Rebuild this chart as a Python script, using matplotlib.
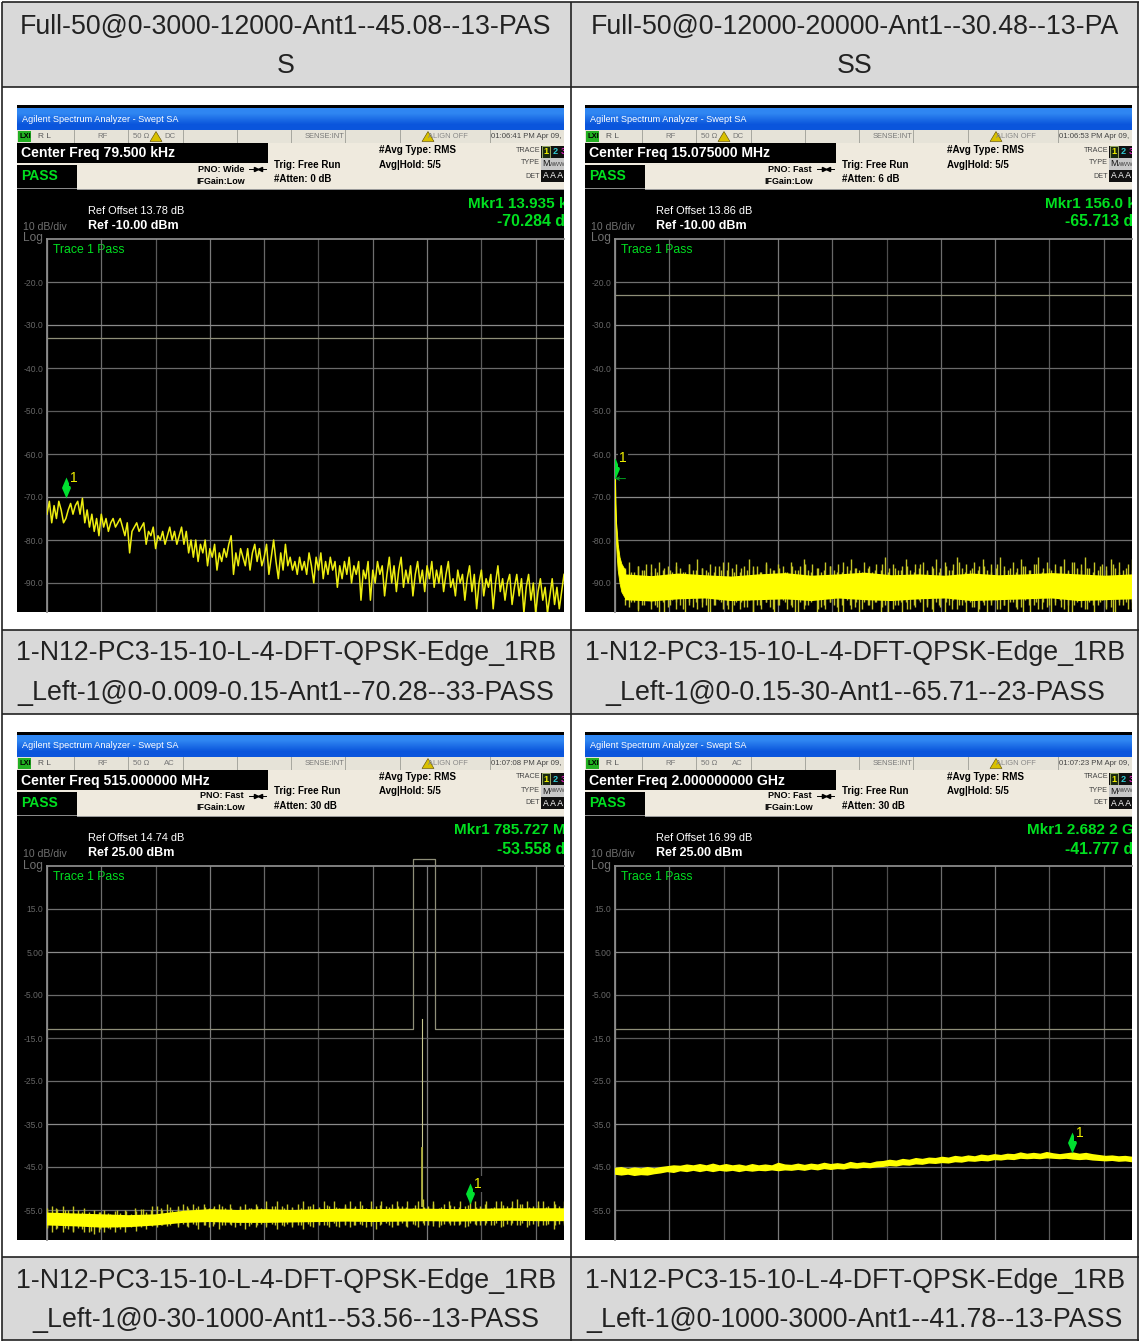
"""
Four spectrum analyzer screenshots in a two column table, redrawn with matplotlib.
Frequencies are in the unit of each sweep (kHz or MHz), levels in dBm.
"""
import numpy as np
import matplotlib
matplotlib.use('Agg')
import matplotlib.pyplot as plt
from matplotlib.patches import Rectangle
from matplotlib.path import Path as MplPath
from matplotlib.transforms import Bbox, TransformedBbox

HEADERS = [
    ["Full-50@0-3000-12000-Ant1--45.08--13-PAS", "S"],
    ["Full-50@0-12000-20000-Ant1--30.48--13-PA", "SS"],
    ["1-N12-PC3-15-10-L-4-DFT-QPSK-Edge_1RB", "_Left-1@0-0.009-0.15-Ant1--70.28--33-PASS"],
    ["1-N12-PC3-15-10-L-4-DFT-QPSK-Edge_1RB", "_Left-1@0-0.15-30-Ant1--65.71--23-PASS"],
    ["1-N12-PC3-15-10-L-4-DFT-QPSK-Edge_1RB", "_Left-1@0-30-1000-Ant1--53.56--13-PASS"],
    ["1-N12-PC3-15-10-L-4-DFT-QPSK-Edge_1RB", "_Left-1@0-1000-3000-Ant1--41.78--13-PASS"],
]

CENTER_FREQ = ["Center Freq 79.500 kHz", "Center Freq 15.075000 MHz",
               "Center Freq 515.000000 MHz", "Center Freq 2.000000000 GHz"]
PNO = ["PNO: Wide", "PNO: Fast", "PNO: Fast", "PNO: Fast"]
ATTEN = ["#Atten: 0 dB", "#Atten: 6 dB", "#Atten: 30 dB", "#Atten: 30 dB"]
COUPLING = ["DC", "DC", "AC", "AC"]
CLOCK = ["01:06:41 PM Apr 09,", "01:06:53 PM Apr 09,", "01:07:08 PM Apr 09,", "01:07:23 PM Apr 09,"]
REF_OFFSET = ["Ref Offset 13.78 dB", "Ref Offset 13.86 dB", "Ref Offset 14.74 dB", "Ref Offset 16.99 dB"]
REF_LEVEL = ["Ref -10.00 dBm", "Ref -10.00 dBm", "Ref 25.00 dBm", "Ref 25.00 dBm"]
MKR_FREQ_TEXT = ["Mkr1 13.935 kHz", "Mkr1 156.0 kHz", "Mkr1 785.727 MHz", "Mkr1 2.682 2 GHz"]
MKR_LEVEL_TEXT = ["-70.284 dBm", "-65.713 dBm", "-53.558 dBm", "-41.777 dBm"]

REF_DB = [-10, -10, 25, 25]
START = [9.0, 0.15, 30.0, 1000.0]
STOP = [150.0, 30.0, 1000.0, 3000.0]
MKR_FREQ = [13.935, 0.156, 785.727, 2682.2]
MKR_DB = [-70.284, -65.713, -53.558, -41.777]
YTICKS = [
    [-20, -30, -40, -50, -60, -70, -80, -90],
    [-20, -30, -40, -50, -60, -70, -80, -90],
    [15, 5, -5, -15, -25, -35, -45, -55],
    [15, 5, -5, -15, -25, -35, -45, -55],
]
YTICK_LABELS = [
    ["-20.0", "-30.0", "-40.0", "-50.0", "-60.0", "-70.0", "-80.0", "-90.0"],
    ["-20.0", "-30.0", "-40.0", "-50.0", "-60.0", "-70.0", "-80.0", "-90.0"],
    ["15.0", "5.00", "-5.00", "-15.0", "-25.0", "-35.0", "-45.0", "-55.0"],
    ["15.0", "5.00", "-5.00", "-15.0", "-25.0", "-35.0", "-45.0", "-55.0"],
]

# limit lines
LIMIT_1_DB = [-33, -33]
LIMIT_2_DB = [-23, -23]
LIMIT_3_FREQ = [30, 683, 683, 723, 723, 1000]
LIMIT_3_DB = [-13, -13, 26.6, 26.6, -13, -13]
LIMIT_4_DB = [-13, -13]
SPIKE_3_FREQ = 699
SPIKE_3_DB = [-54, -10.6]
SPIKE_3_STRONG_DB = [-54, -40.6]

# panel 1 is a single sparse trace
TRACE_1 = [
    -74, -71, -76, -72, -75, -71, -73, -76, -75, -73, -71.5, -74, -72, -71, -74, -70.3, -76, -73, -77, -74,
    -78, -75, -79, -74, -77, -75, -78, -76, -75, -77, -76, -75, -77, -79, -76, -83, -78, -77, -76, -78,
    -77, -76, -81, -78, -79, -77, -82, -79, -80, -78, -81, -79, -77, -80, -78, -81, -79, -77, -81, -78,
    -83, -80, -84, -80, -85, -81, -83, -80, -86, -82, -84, -81, -87, -83, -85, -82, -84, -81, -79, -88,
    -83, -86, -82, -84, -86, -82, -87, -83, -81, -85, -82, -86, -84, -81, -88, -84, -80, -85, -89, -83,
    -87, -81, -86, -84, -87, -85, -88, -84, -87, -85, -88, -83, -86, -90, -84, -87, -83, -89, -85, -88,
    -84, -87, -85, -91, -86, -89, -85, -88, -84, -90, -86, -88, -85, -94, -87, -89, -85, -94, -87, -90,
    -85, -88, -86, -93, -88, -84, -90, -86, -92, -87, -84, -91, -87, -90, -86, -93, -88, -85, -90, -87,
    -92, -86, -89, -85, -91, -87, -90, -86, -92, -88, -85, -91, -89, -93, -87, -90, -88, -94, -89, -86,
    -92, -88, -96, -90, -87, -93, -89, -91, -88, -96, -90, -86, -92, -89, -94, -90, -88, -95, -91, -88,
    -93, -89, -97, -91, -88, -94, -90, -97, -92, -89, -94, -91, -97, -93, -89, -95, -91, -96, -92, -88,
]

# panels 2 to 4 are dense noise bands: outer tips and the solid core
DECAY_2_FREQ = [0.15, 0.17, 0.20, 0.25, 0.30, 0.40, 0.50, 0.70]
DECAY_2_HIGH = [-65.7, -70, -75.5, -78, -81, -84, -85.5, -87]
DECAY_2_LOW = [-70, -76, -80, -84, -87, -90, -92, -93.5]
BAND_2_HIGH = [
    -87, -85, -87.5, -86, -87, -85.5, -87.5, -86.5, -85, -87, -86, -87.5, -85, -86.5, -87.5, -85.5, -87, -84.5, -86.5, -87,
    -85.5, -87.5, -86, -85, -87, -86.5, -85.5, -87.5, -86, -84.5, -87, -86, -87.5, -85, -86.5, -87, -85.5, -86, -87.5, -85,
    -87, -86, -84.5, -87, -85.5, -86.5, -87.5, -85, -86, -87, -85.5, -87.5, -86, -84.5, -86.5, -87, -85, -86.5, -87.5, -85.5,
    -87, -84, -86.5, -85.5, -87, -86, -84.5, -87, -85.5, -86.5, -85, -87.5, -86, -84.5, -86.5, -85, -87, -85.5, -84, -86.5,
    -85.5, -87, -85, -86, -84.5, -87, -85.5, -86.5, -84, -86, -87, -85, -86.5, -84.5, -86, -87, -85.5, -84, -86.5, -85,
    -87, -85.5, -86, -84.5, -87, -85, -86.5, -85.5, -84, -86.5, -85, -87, -85.5, -86, -84.5, -86.5, -85, -87, -85.5, -84.5,
]
BAND_2_HIGH_B = [
    -86.5, -87.5, -86, -87, -85.5, -87.5, -86.5, -87, -86, -87.5, -85.5, -87, -86.5, -87.5, -86, -87, -85, -87.5, -86.5, -87,
    -86, -87.5, -85.5, -87, -86.5, -87.5, -86, -87, -85.5, -87.5, -86.5, -87, -86, -87.5, -85, -87, -86.5, -87.5, -86, -87,
    -85.5, -87.5, -86.5, -87, -86, -87.5, -85.5, -87, -86.5, -87.5, -86, -87, -85, -87.5, -86.5, -87, -86, -87.5, -85.5, -87,
    -86.5, -87.5, -86, -87, -85.5, -87.5, -86.5, -87, -86, -87.5, -85, -87, -86.5, -87.5, -86, -87, -85.5, -87.5, -86.5, -87,
]
BAND_2_LOW = [
    -94, -95.5, -94.5, -96.5, -95, -94, -96, -95, -96.7, -94.5, -95.5, -94, -96, -95, -96.7, -94.5, -95.5, -96, -94.5, -95,
    -96.7, -95, -94, -96, -95, -96.7, -94.5, -96, -95.5, -94, -96.7, -95, -96, -94.5, -95.5, -96.7, -95, -94, -96, -95,
    -96.7, -94.5, -96, -95, -94, -96.7, -95.5, -96, -94.5, -95, -96.7, -95, -94, -96, -95.5, -96.7, -94.5, -95, -96, -94.5,
    -96.7, -95, -94, -96, -95, -96.7, -94.5, -96, -95.5, -94, -96.7, -95, -96, -94.5, -95.5, -96.7, -95, -94, -96, -95,
    -96.7, -94.5, -95.5, -96, -94.5, -96.7, -95, -94, -96, -95, -96.7, -94.5, -96, -95.5, -94, -96.7, -95, -96, -94.5, -95.5,
    -96.7, -95, -94, -96, -95, -96.7, -94.5, -95.5, -96, -94.5, -96.7, -95, -94, -96, -95.5, -96.7, -94.5, -95, -96, -94.5,
]
BAND_2_LOW_B = [
    -95, -94.5, -96, -95, -94.5, -95.5, -96.7, -95, -94.5, -96, -95, -94.5, -95.5, -96.7, -95, -94.5, -96, -95, -94.5, -95.5,
    -96.7, -95, -94.5, -96, -95, -94.5, -95.5, -96.7, -95, -94.5, -96, -95, -94.5, -95.5, -96.7, -95, -94.5, -96, -95, -94.5,
    -95.5, -96.7, -95, -94.5, -96, -95, -94.5, -95.5, -96.7, -95, -94.5, -96, -95, -94.5, -95.5, -96.7, -95, -94.5, -96, -95,
    -94.5, -95.5, -96.7, -95, -94.5, -96, -95, -94.5, -95.5, -96.7, -95, -94.5, -96, -95, -94.5, -95.5, -96.7, -95, -94.5, -96,
]
CORE_2_HIGH = [-88, -88.4, -87.8, -88.2, -88.5, -88, -87.7, -88.3, -88, -87.6, -88.2, -88, -88.3, -87.8, -88.2, -88, -87.7, -88, -88.3, -88]
CORE_2_LOW = [-94, -94.3, -93.8, -93.6, -94.2, -94, -93.8, -94.2, -93.6, -94, -94.2, -93.8, -93.6, -94.2, -94, -93.8, -93.6, -94.2, -94, -93.8]

BAND_3_HIGH = [
    -54.5, -54, -54.8, -54, -55, -54, -55, -54.5, -55.5, -55, -55.5, -55, -56, -55.2, -55.6, -55, -56, -55.2, -54.8, -55.5,
    -55, -54, -55, -53.5, -55, -54, -53.5, -54.5, -53.5, -54, -53.5, -54.5, -54, -53.5, -54.5, -53.5, -55, -54, -53.5, -54.5,
    -53.5, -54.5, -53, -54, -53, -54, -53.5, -54.5, -53.5, -53, -54, -53.5, -54.5, -53, -54, -53, -54.5, -53.5, -53, -54,
    -53, -54.5, -53, -54, -52.8, -54, -53.5, -52.8, -54, -53, -54.5, -53, -52.5, -54, -53, -54.5, -53.5, -52.8, -54, -53,
    -54, -53, -52.8, -54, -53, -54.5, -53, -52.8, -54, -53, -52.5, -53.5, -52.8, -54, -53, -52.8, -54, -53, -54, -52.8,
]
BAND_3_HIGH_B = [
    -55, -54.5, -55, -55.5, -55.5, -56, -55.5, -55.8, -55, -55.2, -54.5, -54.8, -54, -54.5, -54.2, -54.5, -54, -54.6, -54.2, -54.5,
    -54, -54.5, -54.2, -54.6, -54, -54.4, -54, -54.5, -54.2, -54.6, -54, -54.4, -53.8, -54.4, -54, -54.5, -53.8, -54.2, -53.8, -54.4,
    -54, -54.4, -53.8, -54.2, -53.6, -54.2, -53.8, -54.4, -53.8, -54.2, -53.6, -54.2, -53.8, -54.4, -53.6, -54.2, -53.8, -54.2, -53.6, -54,
]
BAND_3_LOW = [
    -59, -60, -59.2, -60, -59.5, -60, -59.2, -60.2, -60, -60.5, -60, -60.2, -59.5, -60.2, -59.5, -60, -59, -59.8, -59, -59.5,
    -58.5, -59, -58.5, -58.8, -58, -59, -58.2, -59, -58.2, -59.5, -58.5, -59, -58.2, -59.5, -58.5, -58.2, -59, -58.5, -59.5, -58.2,
    -59, -58.2, -59, -58.2, -59.5, -58.5, -58.2, -59, -58.5, -59.5, -58.2, -59, -58.2, -58.5, -59, -58, -59, -58.2, -59, -58.5,
    -58.2, -59, -58.2, -59.5, -58.2, -58, -59, -58.5, -58, -59, -58.2, -59, -58, -58.5, -58, -59, -58.2, -58, -58.5, -58.2,
    -59, -58, -58.2, -58.5, -58, -58.5, -58, -59, -58.2, -58, -58.5, -58, -59, -58.2, -58, -58.5, -58.2, -59.5, -58.2, -58,
]
BAND_3_LOW_B = [
    -59.2, -59.5, -59.2, -59.8, -59.5, -59.8, -59.5, -59.2, -59, -58.5, -58.6, -58.4, -58.7, -58.4, -58.6, -58.4, -58.7, -58.4, -58.5, -58.8,
    -58.4, -58.6, -58.4, -58.8, -58.4, -58.6, -58.4, -58.8, -58.5, -58.4, -58.7, -58.4, -58.6, -58.8, -58.4, -58.6, -58.4, -58.7, -58.4, -58.6,
    -58.4, -58.7, -58.4, -58.6, -58.8, -58.4, -58.6, -58.4, -58.7, -58.4, -58.6, -58.4, -58.8, -58.4, -58.6, -58.4, -58.7, -58.4, -58.6, -58.4,
]
CORE_3_HIGH = [-55.6, -55.8, -56, -56.2, -56, -55.2, -54.8, -55, -54.8, -55, -54.8, -54.7, -54.8, -54.7, -54.7, -54.8, -54.7, -54.6, -54.6, -54.6]
CORE_3_LOW = [-58.6, -58.8, -59.1, -59, -58.6, -58, -57.8, -58, -58, -57.9, -57.8, -57.7, -57.8, -57.7, -57.6, -57.7, -57.6, -57.5, -57.6, -57.6]

BAND_4_HIGH = [
    -45.2, -45, -45.4, -45.1, -45.3, -45, -45.3, -45, -44.8, -44.6, -44.7, -44.4, -44.6, -44.3, -44.6, -44.2, -44.6, -44.3, -44.6, -44.4,
    -44.7, -44.3, -44.6, -44.4, -44.6, -44, -44.4, -44.5, -44.2, -44.5, -44.2, -44.4, -44, -44.3, -44.1, -44.3, -43.8, -44.1, -43.9, -44.1,
    -43.7, -43.6, -43.3, -43.5, -43.1, -43.3, -42.9, -43.1, -42.8, -42.9, -42.6, -42.8, -42.4, -42.6, -42.3, -42.5, -42.1, -42.3, -42, -42.2,
    -41.9, -42, -41.6, -41.9, -41.7, -41.9, -41.5, -41.8, -42, -41.8, -41.6, -41.9, -41.7, -42, -42.2, -42.4, -42.3, -42.5, -42.4, -42.6,
]
BAND_4_LOW = [
    -46.8, -47, -46.8, -47.1, -46.9, -47, -46.7, -46.5, -46.2, -46.4, -46, -46.2, -45.9, -46.2, -45.9, -46.2, -45.9, -46.1, -45.9, -46.2,
    -45.9, -46.1, -45.9, -46, -45.8, -46, -45.8, -45.9, -45.7, -45.9, -45.6, -45.8, -45.5, -45.7, -45.5, -45.6, -45.3, -45.4, -45.2, -45.3,
    -45.1, -45, -44.8, -44.9, -44.6, -44.7, -44.4, -44.5, -44.2, -44.3, -44.1, -44.2, -43.9, -44, -43.7, -43.8, -43.6, -43.7, -43.4, -43.5,
    -43.3, -43.4, -43.1, -43.2, -43.1, -43.2, -43, -43.1, -43.2, -43.1, -43.3, -43.4, -43.3, -43.5, -43.6, -43.7, -43.6, -43.8, -43.7, -43.9,
]

BLACK = '#000000'
HEAD_GREY = '#d9d9d9'
CREAM = '#efeade'
STATUS = '#e6e3d8'
GREEN = '#00e020'
YELLOW = '#ffff00'
TIP_COL = '#c4c428'
LIMIT_COL = '#8f8f78'
GRID_SHADES = ['#8a8a8a', '#6e6e6e', '#5a5a5a', '#7a7a7a', '#686868', '#4e4e4e', '#6e6e6e', '#7a7a7a', '#5c5c5c', '#6a6a6a']
HGRID_SHADES = ['#707070', '#8a8a8a', '#6a6a6a', '#5a5a5a', '#6a6a6a', '#8a8a8a', '#707070', '#686868']

HEAD_SIZE = 19.3
ARIAL = ['Liberation Sans']

# screenshots: left, top, right, bottom in figure pixels
SHOTS = [(17, 105, 564, 612), (585, 105, 1132, 612), (17, 732, 564, 1239.5), (585, 732, 1132, 1239.5)]
MKR_DX1 = [451, 460, 437, 442]
MKR_DX2 = [480, 480, 480, 480]
VIS_STOP = [START[i] + (STOP[i] - START[i]) / 10 * (517 / 54.3) for i in range(4)]
DIAMOND = MplPath([(0, 0), (-4.5, 10.5), (0, 21), (4.5, 10.5), (0, 0)], closed=True)


def draw_table(bg):
    for x0, x1, y0, y1 in [(2, 571, 2, 87), (571, 1138, 2, 87), (2, 571, 630, 714), (571, 1138, 630, 714),
                           (2, 571, 1257, 1340), (571, 1138, 1257, 1340)]:
        bg.add_patch(Rectangle((x0, y0), x1 - x0, y1 - y0, fc=HEAD_GREY, ec='none', zorder=0))
    for x in (2, 571, 1138):
        bg.plot([x, x], [1.5, 1340.5], color='#222222', lw=1.2, zorder=1, solid_capstyle='butt')
    for y in (2, 87, 630, 714, 1257, 1340):
        bg.plot([1.5, 1138.5], [y, y], color='#222222', lw=1.2, zorder=1, solid_capstyle='butt')
    centers = [(286, 26.5, 66), (855, 26.5, 66), (286, 653.5, 693), (855, 653.5, 693), (286, 1280.5, 1320), (855, 1280.5, 1320)]
    for (cx, y1, y2), lines in zip(centers, HEADERS):
        bg.text(cx, y1, lines[0], ha='center', va='center', fontsize=HEAD_SIZE, color='#222222', family=ARIAL)
        bg.text(cx, y2, lines[1], ha='center', va='center', fontsize=HEAD_SIZE, color='#222222', family=ARIAL)


def draw_chrome(bg, i):
    x0, y0, x1, y1 = SHOTS[i]
    bg.add_patch(Rectangle((x0, y0), x1 - x0, y1 - y0, fc=BLACK, ec='none', zorder=2))
    clip = Rectangle((x0, y0), x1 - x0, y1 - y0, fc='none', ec='none', zorder=2)
    bg.add_patch(clip)

    def txt(dx, dy, s, size, color='black', weight='normal', ha='left'):
        t = bg.text(x0 + dx, y0 + dy, s, fontsize=size, color=color, weight=weight, ha=ha, va='center',
                    family=ARIAL, zorder=5, clip_on=True)
        t.set_clip_path(clip)
        return t

    def box(dx0, dy0, dx1, dy1, col, z=3):
        bg.add_patch(Rectangle((x0 + dx0, y0 + dy0), dx1 - dx0, dy1 - dy0, fc=col, ec='none', zorder=z))

    # title bar gradient
    grad = np.array([[0.0], [1.0]])
    cmap = matplotlib.colors.LinearSegmentedColormap.from_list('bar', ['#2f86f2', '#0a55dc'])
    bg.imshow(grad, extent=(x0, x1, y0 + 25, y0 + 3), cmap=cmap, aspect='auto', zorder=3, interpolation='bilinear')
    txt(5, 14, "Agilent Spectrum Analyzer - Swept SA", 6.6, 'white')

    # status row
    box(0, 25, x1 - x0, 38, STATUS)
    for dx in (57, 111, 166, 220, 274, 328, 383, 473):
        box(dx, 25, dx + 1, 38, '#a8a8a0', 4)
    box(1, 26, 14, 37, '#22b022', 4)
    txt(2.5, 31.5, "LXI", 5.4, 'black', 'bold')
    txt(21, 31.5, "R L", 6, '#555555')
    txt(80, 31.5, "RF", 5.6, '#777777')
    txt(116, 31.5, "50 \u03a9", 5.6, '#777777')
    txt(147, 31.5, COUPLING[i], 5.6, '#777777')
    txt(288, 31.5, "SENSE:INT", 5.4, '#777777')
    txt(411, 31.5, "ALIGN OFF", 5.4, '#888888')
    txt(474, 31.5, CLOCK[i], 5.6, '#444444')
    tri_x = [405, 411, 417]
    tri_y = [36.5, 26.5, 36.5]
    bg.fill([x0 + v for v in tri_x], [y0 + v for v in tri_y], fc='#d8c000', ec='#554400', lw=0.4, zorder=4)
    if COUPLING[i] == 'DC':
        bg.fill([x0 + v - 272 for v in tri_x], [y0 + v for v in tri_y], fc='#d8c000', ec='#554400', lw=0.4, zorder=4)

    # settings block
    box(0, 38, x1 - x0, 84, CREAM)
    box(0, 38, 251, 58, BLACK, 4)
    txt(4, 48.5, CENTER_FREQ[i], 10.1, 'white', 'bold')
    box(0, 60, 60, 83, BLACK, 4)
    box(0, 82.5, 60, 84, '#8a8a8a', 5)
    box(60, 83.5, x1 - x0, 85, '#9a9a9a', 5)
    txt(4, 71, "PASS", 10, GREEN, 'bold')
    txt(227, 64, PNO[i], 6.5, 'black', 'bold', ha='right')
    txt(228, 76, "IFGain:Low", 6.4, 'black', 'bold', ha='right')
    cy = y0 + 64
    bg.plot([x0 + 232, x0 + 249], [cy, cy], color='black', lw=0.7, zorder=5)
    bg.plot([x0 + 239], [cy], marker='>', ms=3, color='black', zorder=5)
    bg.plot([x0 + 243], [cy], marker='<', ms=3, color='black', zorder=5)
    txt(257, 59.5, "Trig: Free Run", 7, 'black', 'bold')
    txt(257, 74, ATTEN[i], 7, 'black', 'bold')
    txt(362, 45, "#Avg Type: RMS", 7.1, 'black', 'bold')
    txt(362, 59.5, "Avg|Hold: 5/5", 7, 'black', 'bold')
    txt(523, 45, "TRACE", 5.2, '#444444', ha='right')
    txt(523, 58, "TYPE", 5.2, '#444444', ha='right')
    txt(523, 71, "DET", 5.2, '#444444', ha='right')
    box(524, 41, x1 - x0, 77, '#101010', 4)
    bg.add_patch(Rectangle((x0 + 524.5, y0 + 41), 8, 12, fc='#1a2a10', ec='#99aa66', lw=0.7, zorder=4))
    txt(526, 47, "1", 6.6, '#f0f000', 'bold')
    txt(535.5, 47, "2", 6.6, '#30c8d0', 'bold')
    txt(543.5, 47, "3", 6.6, '#e020c0', 'bold')
    box(524, 53, x1 - x0, 65, '#c8c8c8', 4)
    txt(525, 59, "M", 6.4, '#111111')
    txt(532, 59, "WWW", 4.2, '#444444')
    txt(526, 71, "A A A", 6.2, 'white')

    # info over the grid
    txt(71, 106, REF_OFFSET[i], 7.9, 'white')
    txt(71, 121, REF_LEVEL[i], 9, 'white', 'bold')
    txt(6, 122, "10 dB/div", 7.6, '#707070')
    txt(6, 133.5, "Log", 8.6, '#707070')
    txt(36, 145, "Trace 1 Pass", 8.8, GREEN)
    txt(MKR_DX1[i], 98.5, MKR_FREQ_TEXT[i], 11, GREEN, 'bold')
    txt(MKR_DX2[i], 117, MKR_LEVEL_TEXT[i], 11.4, GREEN, 'bold')


def add_band(ax, f0, f1, highs, lows, core_high, core_low):
    xc = np.linspace(f0, f1, len(core_high))
    ax.fill(np.r_[xc, xc[::-1]], np.r_[core_high, core_low[::-1]], fc=YELLOW, ec='none', zorder=4)
    # thin tips above and below the solid part
    for high in highs:
        xh = np.linspace(f0, f1, len(high))
        ax.vlines(xh, np.interp(xh, xc, core_high) - 0.3, high, color=TIP_COL, lw=1.0, zorder=3)
    for low in lows:
        xl = np.linspace(f0, f1, len(low))
        ax.vlines(xl, low, np.interp(xl, xc, core_low) + 0.3, color=TIP_COL, lw=1.0, zorder=3)


def draw_trace(ax, i):
    if i == 0:
        freqs = np.linspace(START[i], VIS_STOP[i], len(TRACE_1))
        ax.plot(freqs, TRACE_1, color='#eeee10', lw=1.1, zorder=3)
        ax.plot([START[i], VIS_STOP[i]], LIMIT_1_DB, color=LIMIT_COL, lw=0.9, zorder=2)
    elif i == 1:
        ax.plot([START[i], VIS_STOP[i]], LIMIT_2_DB, color=LIMIT_COL, lw=0.9, zorder=2)
        add_band(ax, 0.7, VIS_STOP[i], [BAND_2_HIGH, BAND_2_HIGH_B], [BAND_2_LOW, BAND_2_LOW_B], CORE_2_HIGH, CORE_2_LOW)
        ax.fill_between(DECAY_2_FREQ, DECAY_2_LOW, DECAY_2_HIGH, color=YELLOW, lw=0.6, zorder=4)
    elif i == 2:
        lim, = ax.plot(LIMIT_3_FREQ, LIMIT_3_DB, color=LIMIT_COL, lw=0.9, zorder=2)
        # the mask rises a little above the graticule, so clip only at the screenshot edge
        lim.set_clip_box(TransformedBbox(Bbox([[0, 0], [1, 1.03]]), ax.transAxes))
        ax.plot([SPIKE_3_FREQ, SPIKE_3_FREQ], SPIKE_3_DB, color='#c8c890', lw=0.8, zorder=3)
        ax.plot([SPIKE_3_FREQ, SPIKE_3_FREQ], SPIKE_3_STRONG_DB, color='#b0b040', lw=1.3, zorder=3)
        add_band(ax, START[i], VIS_STOP[i], [BAND_3_HIGH, BAND_3_HIGH_B], [BAND_3_LOW, BAND_3_LOW_B], CORE_3_HIGH, CORE_3_LOW)
    else:
        ax.plot([START[i], VIS_STOP[i]], LIMIT_4_DB, color=LIMIT_COL, lw=0.9, zorder=2)
        xh = np.linspace(START[i], VIS_STOP[i], len(BAND_4_HIGH))
        xl = np.linspace(START[i], VIS_STOP[i], len(BAND_4_LOW))
        ax.fill(np.r_[xh, xl[::-1]], np.r_[BAND_4_HIGH, BAND_4_LOW[::-1]], fc=YELLOW, ec='none', zorder=3)

    ax.plot([MKR_FREQ[i]], [MKR_DB[i]], marker=DIAMOND, ms=30.2, mfc='#00e030', mec='none', ls='none', zorder=6)
    ax.annotate("1", (MKR_FREQ[i], MKR_DB[i]), xytext=(5.5, 14.5), textcoords='offset points', color='#f0f000',
                fontsize=10, family=ARIAL, va='center', ha='center', zorder=7, annotation_clip=False,
                bbox=dict(fc=BLACK, ec='none', pad=0.8))
    if i == 1:
        # small green arrow at the marker level
        ax.annotate("", (MKR_FREQ[i], MKR_DB[i]), xytext=(7.5, 0), textcoords='offset points', zorder=7,
                    arrowprops=dict(arrowstyle='->', color='#00a020', lw=0.7, shrinkA=0, shrinkB=0, mutation_scale=6))


def main():
    fig = plt.figure(figsize=(11.4, 13.42), dpi=100, facecolor='white')
    bg = fig.add_axes([0, 0, 1, 1], zorder=0)
    bg.set_axis_off()

    draw_table(bg)
    for i in range(4):
        draw_chrome(bg, i)
    bg.set_xlim(0, 1140)
    bg.set_ylim(1342, 0)

    for i, (x0, y0, x1, y1) in enumerate(SHOTS):
        left = x0 + 30
        top = y0 + 134
        ax = fig.add_axes([left / 1140, 1 - y1 / 1342, (x1 - left) / 1140, (y1 - top) / 1342], zorder=1 + i)
        ax.patch.set_alpha(0)
        ax.set_xlim(START[i], VIS_STOP[i])
        ax.set_ylim(REF_DB[i] - (y1 - top) / 4.3, REF_DB[i])
        step = (STOP[i] - START[i]) / 10
        ax.set_xticks([START[i] + k * step for k in range(10)])
        ax.set_xticklabels([])
        ax.set_yticks(YTICKS[i], YTICK_LABELS[i])
        ax.tick_params(length=0, pad=2.5, labelsize=6.2, labelcolor='#666666')
        for lab in ax.get_yticklabels():
            lab.set_family(ARIAL)
        ax.set_axisbelow(True)
        ax.grid(True, lw=0.9)
        for k, g in enumerate(ax.get_xgridlines()):
            g.set_color(GRID_SHADES[k % len(GRID_SHADES)])
        for k, g in enumerate(ax.get_ygridlines()):
            g.set_color(HGRID_SHADES[k % len(HGRID_SHADES)])
        for name in ('right', 'bottom'):
            ax.spines[name].set_visible(False)
        for name in ('left', 'top'):
            ax.spines[name].set_color('#8a8a8a')
            ax.spines[name].set_linewidth(1.3)
        draw_trace(ax, i)

    fig.savefig('out.png', dpi=100, facecolor='white')


if __name__ == '__main__':
    main()
